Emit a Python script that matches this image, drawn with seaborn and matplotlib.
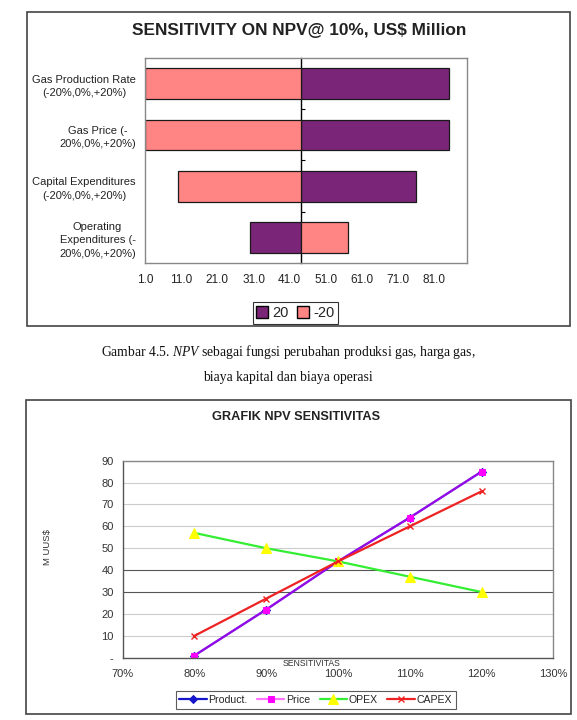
import matplotlib
matplotlib.use("Agg")
import matplotlib.pyplot as plt
from matplotlib.patches import Rectangle, Patch
from matplotlib.ticker import FuncFormatter
import seaborn as sns
import pandas as pd
import numpy as np

# --- tornado chart: NPV @10% (US$ million) at -20% / +20% change
tornado_labels = [
    "Gas Production Rate\n(-20%,0%,+20%)",
    "Gas Price (-\n20%,0%,+20%)",
    "Capital Expenditures\n(-20%,0%,+20%)",
    "Operating\nExpenditures (-\n20%,0%,+20%)",
]
base_npv = 44.0
npv_up20 = [85, 85, 76, 30]
npv_down20 = [1, 1, 10, 57]
tornado_ticks = [1, 11, 21, 31, 41, 51, 61, 71, 81]

# --- line chart: NPV vs sensitivity
sens_pct = [80, 90, 100, 110, 120]
npv_product = [1, 22, 44, 64, 85]
npv_price = [1, 22, 44, 64, 85]
npv_opex = [57, 50, 44, 37, 30]
npv_capex = [10, 27, 44, 60, 76]

PURPLE = "#7B2579"
PINK = "#FF8484"

sns.set_style("white")
plt.rcParams["font.family"] = ["Liberation Sans", "DejaVu Sans"]
plt.rcParams["mathtext.fontset"] = "custom"
plt.rcParams["mathtext.rm"] = "Liberation Serif"
plt.rcParams["mathtext.it"] = "Liberation Serif:italic"

W, H = 577, 720
fig = plt.figure(figsize=(W / 100, H / 100), dpi=100)
fig.patch.set_facecolor("white")


def box(x0, y0, x1, y1):
    # pixel box (top-left origin) -> figure fraction rect
    return [x0 / W, 1 - y1 / H, (x1 - x0) / W, (y1 - y0) / H]


for frame in [(27, 12, 570, 326), (26, 400, 571, 714)]:
    r = box(*frame)
    fig.patches.append(Rectangle((r[0], r[1]), r[2], r[3], transform=fig.transFigure,
                                 fill=False, edgecolor="#444444", lw=1.2))

# ---------------- top: tornado ----------------
ax1 = fig.add_axes(box(145, 58, 467, 263))
df1 = pd.DataFrame({
    "category": tornado_labels * 2,
    "case": ["20"] * 4 + ["-20"] * 4,
    "delta": [v - base_npv for v in npv_up20] + [v - base_npv for v in npv_down20],
})
sns.barplot(data=df1, x="delta", y="category", hue="case", order=tornado_labels,
            hue_order=["20", "-20"], palette={"20": PURPLE, "-20": PINK},
            dodge=False, width=0.6, orient="h", errorbar=None, legend=False,
            saturation=1, edgecolor="#1a1a1a", linewidth=0.9, ax=ax1)
xmin, xmax = 1 - base_npv, 90 - base_npv
ax1.set_xlim(xmin, xmax)
ax1.set_xticks(np.array(tornado_ticks) - base_npv)
ax1.xaxis.set_major_formatter(FuncFormatter(lambda v, p: f"{v + base_npv:.1f}"))
ax1.set_xlabel("")
ax1.set_ylabel("")
ax1.tick_params(axis="x", direction="out", length=3, color="#666666", labelsize=8.5,
                pad=5, labelcolor="#222222")
ax1.tick_params(axis="y", length=0, labelsize=8.0, pad=6.5, labelcolor="#222222")
for lab in ax1.get_yticklabels():
    lab.set_multialignment("center")
    lab.set_linespacing(1.45)
for s in ax1.spines.values():
    s.set_color("#888888")
    s.set_linewidth(1)

sec = ax1.secondary_yaxis((0 - xmin) / (xmax - xmin))
sec.set_yticks([0.5, 1.5, 2.5])
sec.tick_params(direction="in", length=3, labelleft=False, labelright=False, color="black")
sec.spines["left"].set_color("black")
sec.spines["left"].set_linewidth(1)

fig.text(299.5 / W, 1 - 31 / H, "SENSITIVITY ON NPV@ 10%, US$ Million", ha="center",
         va="center", fontsize=12.4, weight="bold", color="#222222")

leg1 = fig.legend(handles=[Patch(facecolor=PURPLE, edgecolor="black", label="20"),
                           Patch(facecolor=PINK, edgecolor="black", label="-20")],
                  loc="center", bbox_to_anchor=(295.5 / W, 1 - 313 / H), ncol=2,
                  frameon=True, fancybox=False, edgecolor="black", fontsize=10.5,
                  handlelength=0.8, handleheight=0.8, handletextpad=0.3,
                  columnspacing=0.6, borderpad=0.25)
leg1.get_frame().set_linewidth(0.8)

# ---------------- caption ----------------
fig.text(288 / W, 1 - 352 / H,
         r"Gambar 4.5. $NPV$ sebagai fungsi perubahan produksi gas, harga gas,",
         ha="center", va="center", fontsize=9.8, family="Liberation Serif", color="#111111")
fig.text(288 / W, 1 - 378 / H, "biaya kapital dan biaya operasi",
         ha="center", va="center", fontsize=9.8, family="Liberation Serif", color="#111111")

# ---------------- bottom: line chart ----------------
ax2 = fig.add_axes(box(122.7, 460.7, 553.3, 657.7))
series = [
    ("Product.", npv_product, dict(color="#1515CC", marker="D", markersize=4,
                                   markerfacecolor="#1515CC", markeredgecolor="#1515CC")),
    ("Price", npv_price, dict(color=(1, 0, 1, 0.55), marker="s", markersize=5,
                              markerfacecolor="#FF00FF", markeredgecolor="#FF00FF")),
    ("OPEX", npv_opex, dict(color="#33EE33", marker="^", markersize=7,
                            markerfacecolor="#FFFF00", markeredgecolor="#FFFF00")),
    ("CAPEX", npv_capex, dict(color="#EE2222", marker="x", markersize=5,
                              markeredgecolor="#EE2222", markeredgewidth=1)),
]
for name, vals, style in series:
    sns.lineplot(x=sens_pct, y=vals, ax=ax2, label=name, linewidth=1.6,
                 errorbar=None, legend=False, **style)

ax2.set_xlim(70, 130)
ax2.set_ylim(0, 90)
ax2.set_xticks(np.arange(70, 131, 10))
ax2.set_yticks(np.arange(0, 91, 10))
ax2.xaxis.set_major_formatter(FuncFormatter(lambda v, p: f"{v:.0f}%"))
ax2.yaxis.set_major_formatter(FuncFormatter(lambda v, p: "-" if v == 0 else f"{v:.0f}"))
ax2.set_axisbelow(True)
ax2.yaxis.grid(True, color="#CCCCCC", lw=0.8)
for val, gl in zip(ax2.get_yticks(), ax2.get_ygridlines()):
    if val in (30, 40):
        gl.set_color("#555555")
ax2.tick_params(axis="both", direction="out", length=3, color="#555555", labelsize=8,
                labelcolor="#333333")
ax2.tick_params(axis="x", pad=5)
for s in ax2.spines.values():
    s.set_color("#888888")
    s.set_linewidth(1)
ax2.spines["left"].set_color("#555555")
ax2.spines["bottom"].set_color("#555555")

fig.text(296 / W, 1 - 417 / H, "GRAFIK NPV SENSITIVITAS", ha="center", va="center",
         fontsize=9.2, weight="bold", color="#222222")
fig.text(312 / W, 1 - 664 / H, "SENSITIVITAS", ha="center", va="center",
         fontsize=6.2, color="#333333")
fig.text(47 / W, 1 - 547 / H, "M UUS$", rotation=90, ha="center", va="center",
         fontsize=6.8, color="#333333")

handles, labels = ax2.get_legend_handles_labels()
leg2 = fig.legend(handles, labels, loc="center", bbox_to_anchor=(315.5 / W, 1 - 700 / H),
                  ncol=4, frameon=True, fancybox=False, edgecolor="#333333", fontsize=7.6,
                  handlelength=2.6, handletextpad=0.15, columnspacing=0.9, borderpad=0.35)
leg2.get_frame().set_linewidth(0.8)

fig.savefig("out.png", dpi=100)
